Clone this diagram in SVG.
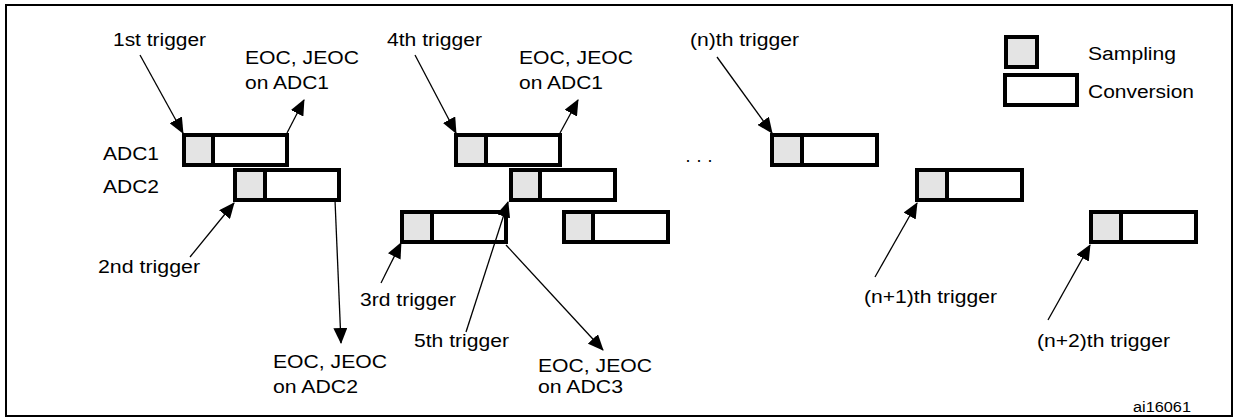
<svg xmlns="http://www.w3.org/2000/svg" width="1237" height="419" viewBox="0 0 1237 419">
<style>
text{font-family:"Liberation Sans",Arial,sans-serif;font-size:18px;fill:#000}
.s{fill:#e4e4e4;stroke:#000;stroke-width:4}
.c{fill:#fff;stroke:#000;stroke-width:4}
.a{stroke:#000;stroke-width:1.3;fill:none;marker-end:url(#ah)}
</style>
<defs>
<marker id="ah" markerUnits="userSpaceOnUse" markerWidth="16" markerHeight="14" viewBox="0 0 16 14" refX="15" refY="7" orient="auto"><path d="M0,0 L16,7 L0,14 Z" fill="#000"/></marker>
</defs>
<rect width="1237" height="419" fill="#fff"/>
<rect x="6" y="5" width="1226" height="411" fill="none" stroke="#000" stroke-width="2"/>
<g id="adc1a"><rect class="c" x="184" y="135" width="103" height="30"/><rect class="s" x="184" y="135" width="29" height="30"/></g>
<g id="adc2a"><rect class="c" x="235" y="170" width="104" height="30"/><rect class="s" x="235" y="170" width="30" height="30"/></g>
<g id="adc3a"><rect class="c" x="402" y="212" width="104" height="30"/><rect class="s" x="402" y="212" width="30" height="30"/></g>
<g id="adc1b"><rect class="c" x="456" y="135" width="104" height="30"/><rect class="s" x="456" y="135" width="30" height="30"/></g>
<g id="adc2b"><rect class="c" x="511" y="170" width="104" height="30"/><rect class="s" x="511" y="170" width="29" height="30"/></g>
<g id="adc3b"><rect class="c" x="564" y="212" width="104" height="30"/><rect class="s" x="564" y="212" width="29" height="30"/></g>
<g id="n"><rect class="c" x="772" y="135" width="105" height="30"/><rect class="s" x="772" y="135" width="30" height="30"/></g>
<g id="n1"><rect class="c" x="917" y="170" width="105" height="30"/><rect class="s" x="917" y="170" width="30" height="30"/></g>
<g id="n2"><rect class="c" x="1091" y="212" width="105" height="30"/><rect class="s" x="1091" y="212" width="30" height="30"/></g>
<g id="legend">
<rect class="s" x="1006" y="37" width="31" height="30"/>
<rect class="c" x="1005" y="75" width="72" height="30"/>
<text x="1088" y="60" textLength="88" lengthAdjust="spacingAndGlyphs">Sampling</text>
<text x="1088" y="98" textLength="106" lengthAdjust="spacingAndGlyphs">Conversion</text>
</g>
<g id="connectors">
<line class="a" x1="140" y1="55" x2="183" y2="133"/>
<line class="a" x1="287" y1="133" x2="304" y2="100"/>
<line class="a" x1="190" y1="257" x2="234" y2="203"/>
<line class="a" x1="335" y1="200" x2="341" y2="343"/>
<line class="a" x1="415" y1="55" x2="456" y2="133"/>
<line class="a" x1="560" y1="133" x2="578" y2="100"/>
<line class="a" x1="381" y1="283" x2="401" y2="243"/>
<line class="a" x1="466" y1="332" x2="508" y2="202"/>
<line class="a" x1="506" y1="245" x2="603" y2="350"/>
<line class="a" x1="717" y1="57" x2="772" y2="133"/>
<line class="a" x1="875" y1="277" x2="917" y2="203"/>
<line class="a" x1="1048" y1="320" x2="1090" y2="245"/>
</g>
<g id="labels" lengthAdjust="spacingAndGlyphs">
<text x="113" y="46" textLength="93" lengthAdjust="spacingAndGlyphs">1st trigger</text>
<text x="245" y="64" textLength="114" lengthAdjust="spacingAndGlyphs">EOC, JEOC</text><text x="245" y="89" textLength="84" lengthAdjust="spacingAndGlyphs">on ADC1</text>
<text x="103" y="160" textLength="56" lengthAdjust="spacingAndGlyphs">ADC1</text>
<text x="103" y="193" textLength="56" lengthAdjust="spacingAndGlyphs">ADC2</text>
<text x="98" y="273" textLength="102" lengthAdjust="spacingAndGlyphs">2nd trigger</text>
<text x="273" y="368" textLength="114" lengthAdjust="spacingAndGlyphs">EOC, JEOC</text><text x="273" y="393" textLength="85" lengthAdjust="spacingAndGlyphs">on ADC2</text>
<text x="387" y="46" textLength="95" lengthAdjust="spacingAndGlyphs">4th trigger</text>
<text x="519" y="64" textLength="114" lengthAdjust="spacingAndGlyphs">EOC, JEOC</text><text x="519" y="89" textLength="84" lengthAdjust="spacingAndGlyphs">on ADC1</text>
<text x="360" y="306" textLength="96" lengthAdjust="spacingAndGlyphs">3rd trigger</text>
<text x="414" y="347" textLength="95" lengthAdjust="spacingAndGlyphs">5th trigger</text>
<text x="538" y="372" textLength="114" lengthAdjust="spacingAndGlyphs">EOC, JEOC</text><text x="538" y="393" textLength="85" lengthAdjust="spacingAndGlyphs">on ADC3</text>
<text x="690" y="46" textLength="109" lengthAdjust="spacingAndGlyphs">(n)th trigger</text>
<text x="685" y="166" font-size="14">· · ·</text>
<text x="864" y="303" textLength="133" lengthAdjust="spacingAndGlyphs">(n+1)th trigger</text>
<text x="1037" y="347" textLength="133" lengthAdjust="spacingAndGlyphs">(n+2)th trigger</text>
<text x="1133" y="412" style="font-size:14px" textLength="58" lengthAdjust="spacingAndGlyphs">ai16061</text>
</g>
</svg>
